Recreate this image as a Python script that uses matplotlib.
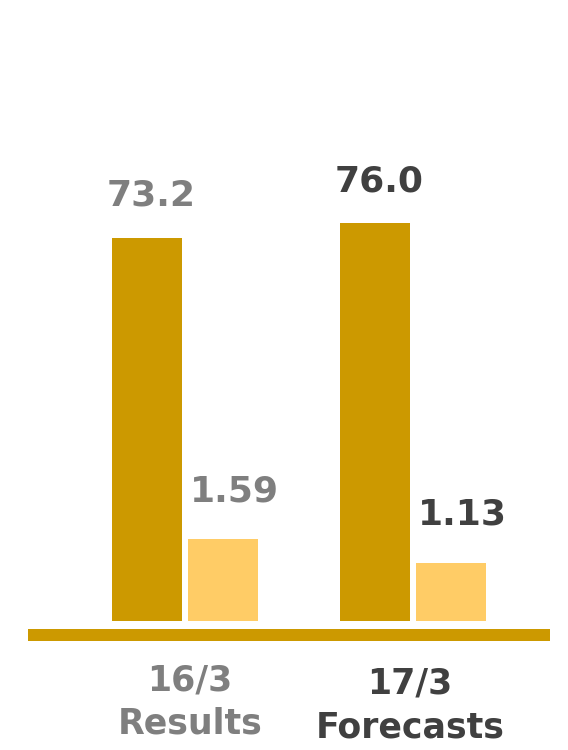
import numpy as np
import matplotlib.pyplot as plt

periods = ["16/3", "17/3"]
kinds = ["Results", "Forecasts"]
main_values = [73.2, 76.0]
small_values = [1.59, 1.13]
text_colors = ["#7F7F7F", "#404040"]

dark_gold = "#CC9900"
light_gold = "#FFCC66"

fig = plt.figure(figsize=(5.68, 7.5), dpi=100)
ax = fig.add_axes([0, 0, 1, 1])
ax2 = ax.twinx()

x = np.arange(len(periods))
w = 0.307
off = 0.1667

ax.bar(x - off, main_values, w, color=dark_gold)
ax2.bar(x + off, small_values, w, color=light_gold)

ax.set_xlim(-0.8114, 1.6798)
ax.set_ylim(-24.64, 118.62)
ax2.set_ylim(-2.507, 12.07)

# thick baseline under the bars
ax.axhline(-2.674, xmin=0.0493, xmax=0.9683, color=dark_gold, lw=8.64,
           solid_capstyle="butt")

num_font = dict(family="DejaVu Sans", fontweight="bold", fontsize=26)
cat_font = dict(family="DejaVu Sans", fontweight="bold", fontsize=25)
cat_dx = [5, -3]

for i in range(len(periods)):
    ax.annotate(f"{main_values[i]:.1f}", (x[i] - off, main_values[i]),
                xytext=(4, 32), textcoords="offset pixels",
                ha="center", va="baseline", color=text_colors[i], **num_font)
    ax2.annotate(f"{small_values[i]:.2f}", (x[i] + off, small_values[i]),
                 xytext=(11, 38), textcoords="offset pixels",
                 ha="center", va="baseline", color=text_colors[i], **num_font)
    ax.annotate(periods[i], (x[i], 0), xytext=(cat_dx[i], -69 - 3 * i),
                textcoords="offset pixels", ha="center", va="baseline",
                color=text_colors[i], **cat_font)
    ax.annotate(kinds[i], (x[i], 0), xytext=(cat_dx[i], -112 - 4 * i),
                textcoords="offset pixels", ha="center", va="baseline",
                color=text_colors[i], **cat_font)

ax.axis("off")
ax2.axis("off")

fig.savefig("out.png", dpi=100)
